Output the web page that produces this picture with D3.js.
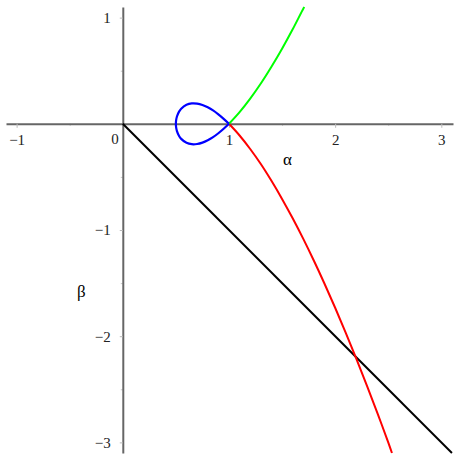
<!DOCTYPE html>
<html>
<head>
<meta charset="utf-8">
<script src="https://cdn.jsdelivr.net/npm/d3@7"></script>
<style>
  body { margin: 0; background: #fff; }
</style>
</head>
<body>
<div id="chart"></div>
<script>
// tick values
const xMajor = [-1, 1, 2, 3];
const xMinor = [-0.5, 0.5, 1.5, 2.5];
const yMajor = [-3, -2, -1, 1];
const yMinor = [-2.5, -1.5, -0.5, 0.5];

// curves, [alpha, beta]
const loopBlue = [
  [1, 0], [0.95, 0.047], [0.9, 0.089], [0.85, 0.126], [0.8, 0.155], [0.75, 0.177],
  [0.7, 0.19], [0.65, 0.192], [0.6, 0.179], [0.55, 0.142], [0.53, 0.115],
  [0.51, 0.069], [0.502, 0.032], [0.5, 0], [0.502, -0.032], [0.51, -0.069],
  [0.53, -0.115], [0.55, -0.142], [0.6, -0.179], [0.65, -0.192], [0.7, -0.19],
  [0.75, -0.177], [0.8, -0.155], [0.85, -0.126], [0.9, -0.089], [0.95, -0.047], [1, 0]
];
const branchGreen = [
  [1, 0], [1.1, 0.11], [1.2, 0.237], [1.3, 0.379], [1.4, 0.537],
  [1.5, 0.707], [1.6, 0.89], [1.7, 1.084], [1.71, 1.1]
];
const branchRed = [
  [1, 0], [1.1, -0.11], [1.2, -0.237], [1.3, -0.379], [1.4, -0.537], [1.5, -0.707],
  [1.6, -0.89], [1.7, -1.084], [1.8, -1.29], [1.9, -1.506], [2.0, -1.732],
  [2.1, -1.968], [2.2, -2.213], [2.3, -2.467], [2.4, -2.729], [2.5, -3.0], [2.535, -3.1]
];
const lineBlack = [[0, 0], [3.1, -3.1]];

const width = 460, height = 460;
const serif = "'Liberation Serif', 'Times New Roman', 'DejaVu Serif', serif";

const svg = d3.select("#chart").append("svg")
    .attr("width", width)
    .attr("height", height);

const x = d3.scaleLinear().domain([-1.1, 3.11]).range([6, 453]);
const y = d3.scaleLinear().domain([1.1, -3.1]).range([7, 453]);

// minor ticks
svg.append("g")
    .attr("transform", `translate(0,${y(0)})`)
    .call(d3.axisBottom(x).tickValues(xMinor).tickSize(2).tickFormat(""))
    .call(g => g.select(".domain").remove())
    .call(g => g.selectAll("line").attr("stroke", "#c8c8c8"));

svg.append("g")
    .attr("transform", `translate(${x(0)},0)`)
    .call(d3.axisLeft(y).tickValues(yMinor).tickSize(2).tickFormat(""))
    .call(g => g.select(".domain").remove())
    .call(g => g.selectAll("line").attr("stroke", "#c8c8c8"));

const fmt = d => d < 0 ? "\u2212" + Math.abs(d) : String(d);

// x axis
svg.append("g")
    .attr("transform", `translate(0,${y(0)})`)
    .call(d3.axisBottom(x).tickValues(xMajor).tickSize(4).tickPadding(7).tickFormat(fmt).tickSizeOuter(0))
    .call(g => g.select(".domain").attr("stroke", "#666").attr("stroke-width", 2))
    .call(g => g.selectAll(".tick line").attr("stroke", "#bbb"))
    .call(g => g.selectAll("text").attr("fill", "#222")
        .style("font-family", serif).style("font-size", "15px"));

// y axis
svg.append("g")
    .attr("transform", `translate(${x(0)},0)`)
    .call(d3.axisLeft(y).tickValues(yMajor).tickSize(3).tickPadding(9).tickFormat(fmt).tickSizeOuter(0))
    .call(g => g.select(".domain").attr("stroke", "#666").attr("stroke-width", 2))
    .call(g => g.selectAll(".tick line").attr("stroke", "#bbb"))
    .call(g => g.selectAll("text").attr("fill", "#222")
        .style("font-family", serif).style("font-size", "15px"));

// origin label
svg.append("text")
    .attr("x", x(0) - 4)
    .attr("y", y(0) + 20)
    .attr("text-anchor", "end")
    .attr("fill", "#222")
    .style("font-family", serif).style("font-size", "15px")
    .text("0");

// axis titles
svg.append("text")
    .attr("x", x(1.55))
    .attr("y", y(-0.39))
    .attr("text-anchor", "middle")
    .style("font-family", serif).style("font-size", "17px")
    .text("α");

svg.append("text")
    .attr("x", x(-0.39))
    .attr("y", y(-1.63))
    .attr("text-anchor", "middle")
    .style("font-family", serif).style("font-size", "17px")
    .text("β");

const line = d3.line()
    .x(d => x(d[0]))
    .y(d => y(d[1]))
    .curve(d3.curveCatmullRom);

svg.append("path")
    .datum(lineBlack)
    .attr("d", line)
    .attr("fill", "none")
    .attr("stroke", "#000")
    .attr("stroke-width", 2);

svg.append("path")
    .datum(branchRed)
    .attr("d", line)
    .attr("fill", "none")
    .attr("stroke", "#ff0000")
    .attr("stroke-width", 2);

svg.append("path")
    .datum(branchGreen)
    .attr("d", line)
    .attr("fill", "none")
    .attr("stroke", "#00ff00")
    .attr("stroke-width", 2);

svg.append("path")
    .datum(loopBlue)
    .attr("d", line)
    .attr("fill", "none")
    .attr("stroke", "#0000ff")
    .attr("stroke-width", 2.2);
</script>
</body>
</html>
